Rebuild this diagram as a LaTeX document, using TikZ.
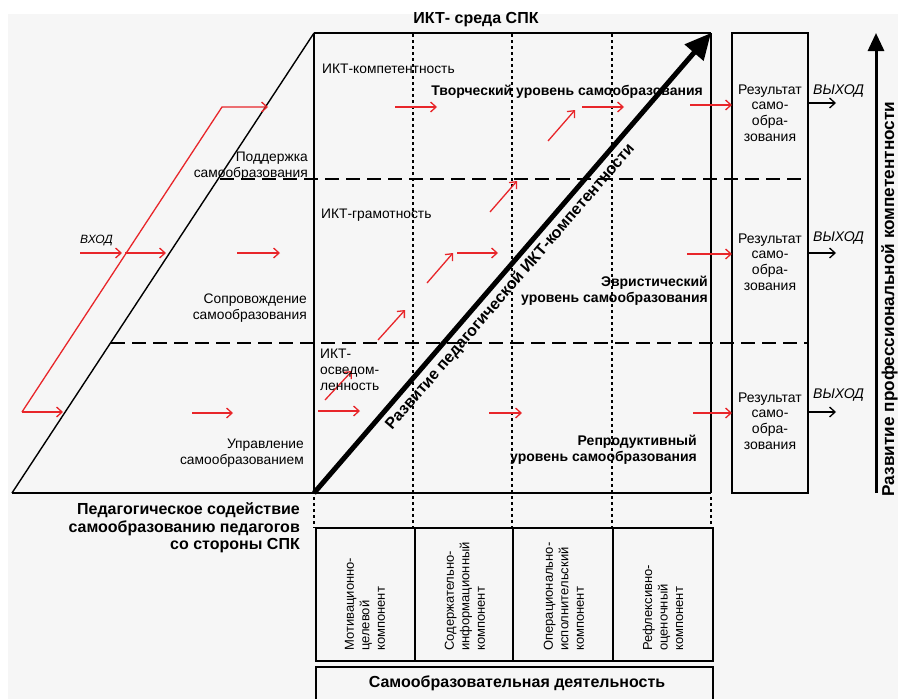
\documentclass[tikz,border=0pt]{standalone}
\usepackage{fontspec}
\setmainfont{Liberation Sans}
\usetikzlibrary{arrows.meta}
\definecolor{bgc}{HTML}{F6F6F6}
\definecolor{arrred}{HTML}{E8262A}
\begin{document}
\begin{tikzpicture}[x=1pt,y=-1pt,
  redarr/.style={draw=arrred,line width=1.3pt,-{Straight Barb[length=5.5pt,width=10pt]}},
  blkarr/.style={draw=black,line width=1.3pt,-{Straight Barb[length=5.5pt,width=10pt]}},
  dashln/.style={line width=1.5pt,dash pattern=on 14pt off 7pt},
  dotln/.style={line width=1.8pt,dash pattern=on 2.5pt off 3.5pt},
  lbl/.style={inner sep=0pt,font=\fontsize{13.8}{16}\selectfont},
  blbl/.style={inner sep=0pt,font=\bfseries\fontsize{14}{16}\selectfont},
  rlbl/.style={inner sep=0pt,align=center,font=\fontsize{14}{15.7}\selectfont},
  ilbl/.style={inner sep=0pt,font=\itshape\fontsize{14}{16}\selectfont},
  clbl/.style={inner sep=0pt,rotate=90,anchor=west,align=left,font=\fontsize{13}{15.5}\selectfont},
  big/.style={inner sep=0pt,font=\bfseries\fontsize{16}{17.5}\selectfont}
]
\useasboundingbox (0,0) rectangle (898,699);
\fill[bgc] (8,14) rectangle (898,699);

% main frame
\draw[line width=1.4pt] (12,493) -- (314,33);
\draw[line width=1.2pt] (314,33) -- (711,33);
\draw[line width=2pt] (314,33) -- (314,493);
\draw[line width=1.5pt] (711,33) -- (711,493);
\draw[line width=2pt] (12,493) -- (711,493);
% result column
\draw[line width=1.5pt] (732,33) rectangle (808,493);
% dashed level lines
\draw[dashln] (220,179) -- (808,179);
\draw[dashln] (111,343) -- (808,343);
% dotted verticals
\foreach \xx in {413,512,612} \draw[dotln] (\xx,34) -- (\xx,528);
\foreach \xx in {314,711} \draw[dotln] (\xx,497) -- (\xx,528);
% components
\draw[line width=1.5pt] (316,528) rectangle (713,661);
\foreach \xx in {415,513,613} \draw[line width=1.5pt] (\xx,528) -- (\xx,661);
\draw[line width=1.5pt] (316,705) -- (316,667) -- (713,667) -- (713,705);

% big diagonal arrow
\draw[line width=5pt,-{Triangle[length=26pt,width=24pt]}] (314,493) -- (711,33);
% right vertical arrow
\draw[line width=3pt,-{Triangle[length=18pt,width=16pt]}] (876,493) -- (876,33);

% red arrows
\draw[redarr] (22,412) -- (222,107) -- (268,107);
\draw[redarr] (22,412) -- (63,412);
\draw[redarr] (80,253) -- (122,253);
\draw[redarr] (125,253) -- (166,253);
\draw[redarr] (237,253) -- (280,253);
\draw[redarr] (192,413) -- (233,413);
\draw[redarr] (318,411) -- (360,411);
\draw[redarr] (325,400) -- (352,371);
\draw[redarr] (378,340) -- (405,310);
\draw[redarr] (427,283) -- (453,253);
\draw[redarr] (457,253) -- (498,253);
\draw[redarr] (490,212) -- (517,181);
\draw[redarr] (548,141) -- (575,110);
\draw[redarr] (582,107) -- (624,107);
\draw[redarr] (395,107) -- (437,107);
\draw[redarr] (690,105) -- (732,105);
\draw[redarr] (687,254) -- (732,254);
\draw[redarr] (693,413) -- (732,413);
\draw[redarr] (489,413) -- (522,413);

% output arrows
\draw[blkarr] (808,103) -- (836,103);
\draw[blkarr] (808,253) -- (836,253);
\draw[blkarr] (808,412) -- (836,412);

% texts
\node[big] (title) at (476,20) {ИКТ- среда СПК};
\node[lbl,anchor=west] (kompet) at (322,69) {ИКТ-компетентность};
\node[blbl,anchor=east] (tvor) at (703,92) {Творческий уровень самообразования};
\node[lbl,anchor=east,align=right] (podd) at (308,166) {Поддержка\\самообразования};
\node[lbl,anchor=west] (gram) at (321,215) {ИКТ-грамотность};
\node[inner sep=0pt,anchor=west,font=\itshape\fontsize{12}{14}\selectfont] (vhod) at (80,241) {ВХОД};
\node[lbl,anchor=east,align=right] (sopr) at (307,308) {Сопровождение\\самообразования};
\node[lbl,anchor=west,align=left] (osv) at (320,370) {ИКТ-\\осведом-\\ленность};
\node[lbl,anchor=east,align=right] (upr) at (304,453) {Управление\\самообразованием};
\node[blbl,anchor=east,align=right] (evr) at (708,291) {Эвристический\\уровень самообразования};
\node[blbl,anchor=east,align=right] (repr) at (697,450) {Репродуктивный\\уровень самообразования};
\node[rlbl] (res1) at (770,113) {Результат\\само-\\обра-\\зования};
\node[rlbl] (res2) at (770,262) {Результат\\само-\\обра-\\зования};
\node[rlbl] (res3) at (770,421) {Результат\\само-\\обра-\\зования};
\node[ilbl,anchor=west] (out1) at (813,91) {ВЫХОД};
\node[ilbl,anchor=west] (out2) at (813,238) {ВЫХОД};
\node[ilbl,anchor=west] (out3) at (813,395) {ВЫХОД};
\node[big,anchor=east,align=right] (sod) at (300,528) {Педагогическое содействие\\самообразованию педагогов\\со стороны СПК};
\node[clbl] (c1) at (365,651) {Мотивационно-\\целевой\\компонент};
\node[clbl] (c2) at (465,651) {Содержательно-\\информационный\\компонент};
\node[clbl] (c3) at (564,651) {Операционально-\\исполнительский\\компонент};
\node[clbl] (c4) at (663,651) {Рефлексивно-\\оценочный\\компонент};
\node[big] (sam) at (517,683) {Самообразовательная деятельность};
\node[inner sep=0pt,rotate=90,anchor=base,font=\bfseries\fontsize{17.2}{19}\selectfont] (prof) at (894,299) {Развитие профессиональной компетентности};
\node[big,rotate=49.2,anchor=base] (ped) at (513.5,290) {Развитие педагогической ИКТ-компетентности};
\end{tikzpicture}
\end{document}
